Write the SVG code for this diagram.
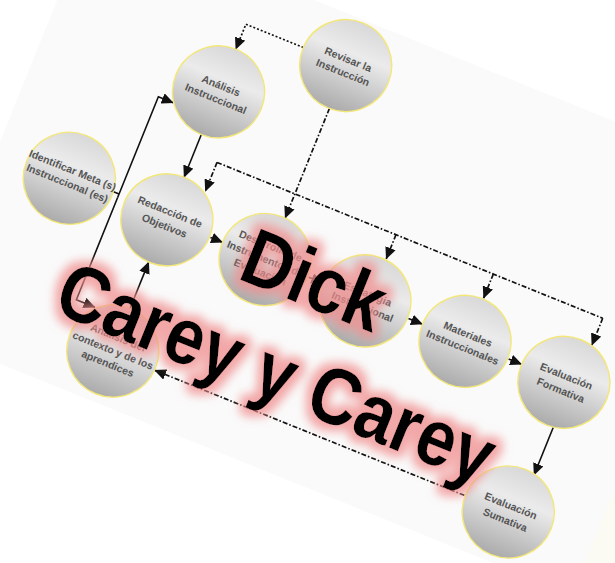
<svg xmlns="http://www.w3.org/2000/svg" width="615" height="563" viewBox="0 0 615 563">
<defs>
<style>
.node circle{fill:url(#gfill);stroke:#f3e77a;stroke-width:1.4}
.node text{font-family:"Liberation Sans",Arial,sans-serif;font-size:10.5px;font-weight:bold;fill:#555;text-anchor:middle}
.solid{fill:none;stroke:#111;stroke-width:1.6}
.dot{fill:none;stroke:#111;stroke-width:1.7;stroke-dasharray:2 2}
.dash{fill:none;stroke:#111;stroke-width:1.7;stroke-dasharray:5 2 1.6 2}
.big{font-family:"Liberation Sans",Arial,sans-serif;font-size:80px;font-weight:bold;fill:#000}
</style>
<linearGradient id="gfill" x1="0" y1="0" x2="0" y2="1">
<stop offset="0" stop-color="#d8d8d8"/>
<stop offset="0.35" stop-color="#ebebeb"/>
<stop offset="0.6" stop-color="#d2d2d2"/>
<stop offset="1" stop-color="#ababab"/>
</linearGradient>
<marker id="ah" markerUnits="userSpaceOnUse" markerWidth="12" markerHeight="11" viewBox="0 0 11 10" refX="10.5" refY="5" orient="auto">
<path d="M0,0 L11,5 L0,10 z" fill="#111"/>
</marker>
<filter id="glow" x="-20%" y="-50%" width="140%" height="200%">
<feMorphology in="SourceAlpha" operator="dilate" radius="6" result="d"/>
<feGaussianBlur in="d" stdDeviation="5" result="b"/>
<feFlood flood-color="#f08c8c" flood-opacity="0.75"/>
<feComposite in2="b" operator="in" result="g"/>
<feMerge><feMergeNode in="g"/><feMergeNode in="SourceGraphic"/></feMerge>
</filter>
</defs>
<rect width="615" height="563" fill="#ffffff"/>
<polygon points="0,170 30,160 22,252 0,262" fill="#f6f6e8" opacity="0.6"/>
<polygon points="580,470 615,455 615,563 560,563" fill="#f7f7ea" opacity="0.5"/>
<g transform="rotate(22 307.5 281.5)">
<rect x="-30" y="18" width="700" height="455" fill="#fafafa"/>
<g id="connectors">
<path class="solid" d="M94,271 H100"/>
<path class="solid" d="M100,275 V166 H116" marker-end="url(#ah)"/>
<path class="solid" d="M100,275 V385 H120" marker-end="url(#ah)"/>
<path class="solid" d="M154,185 V231" marker-end="url(#ah)"/>
<path class="solid" d="M153,373 V323" marker-end="url(#ah)"/>
<path class="solid" d="M201,277 H214" marker-end="url(#ah)"/>
<path class="solid" d="M307,277 H322" marker-end="url(#ah)"/>
<path class="solid" d="M415,278 H430" marker-end="url(#ah)"/>
<path class="solid" d="M523,278 H537" marker-end="url(#ah)"/>
<path class="solid" d="M590,324 V376" marker-end="url(#ah)"/>
<path class="dot" d="M216,66 H154 V93" marker-end="url(#ah)"/>
<path class="dash" d="M263,113 V231" marker-end="url(#ah)"/>
<path class="dash" d="M179,205 H595"/>
<path class="dash" d="M179,205 V236" marker-end="url(#ah)"/>
<path class="dash" d="M372,205 V231" marker-end="url(#ah)"/>
<path class="dash" d="M477,205 V231" marker-end="url(#ah)"/>
<path class="dash" d="M595,205 V234" marker-end="url(#ah)"/>
<path class="dash" d="M533,421 H199" marker-end="url(#ah)"/>
</g>
<g id="revisar" class="node"><circle cx="262" cy="67" r="46"/><text x="262" y="64">Revisar la</text><text x="262" y="78">Instrucción</text></g>
<g id="analisis" class="node"><circle cx="154" cy="139" r="46"/><text x="154" y="136">Análisis</text><text x="154" y="150">Instruccional</text></g>
<g id="identificar" class="node"><circle cx="48" cy="275" r="46"/><text x="48" y="270">Identificar Meta (s)</text><text x="48" y="284">Instruccional (es)</text></g>
<g id="redaccion" class="node"><circle cx="154" cy="277" r="46"/><text x="154" y="272">Redacción de</text><text x="154" y="287">Objetivos</text></g>
<g id="desarrollo" class="node"><circle cx="260" cy="277" r="46"/><text x="260" y="266">Desarrollo de</text><text x="260" y="280">Instrumentos de</text><text x="260" y="294">Evaluación</text></g>
<g id="estrategia" class="node"><circle cx="368" cy="278" r="46"/><text x="368" y="274">Estrategia</text><text x="368" y="288">Instruccional</text></g>
<g id="materiales" class="node"><circle cx="476" cy="278" r="46"/><text x="476" y="274">Materiales</text><text x="476" y="288">Instruccionales</text></g>
<g id="formativa" class="node"><circle cx="583" cy="279" r="46"/><text x="583" y="276">Evaluación</text><text x="583" y="291">Formativa</text></g>
<g id="contexto" class="node"><circle cx="153" cy="419" r="46"/><text x="153" y="408">Análisis del</text><text x="153" y="422">contexto y de los</text><text x="153" y="436">aprendices</text></g>
<g id="sumativa" class="node"><circle cx="580" cy="420" r="46"/><text x="580" y="417">Evaluación</text><text x="580" y="432">Sumativa</text></g>
</g>
<g id="title" filter="url(#glow)">
<text class="big" transform="translate(236,278) rotate(22) scale(0.87,1)">Dick</text>
<text class="big" transform="translate(51,311) rotate(22) scale(0.87,1)">Carey y Carey</text>
</g>
</svg>
